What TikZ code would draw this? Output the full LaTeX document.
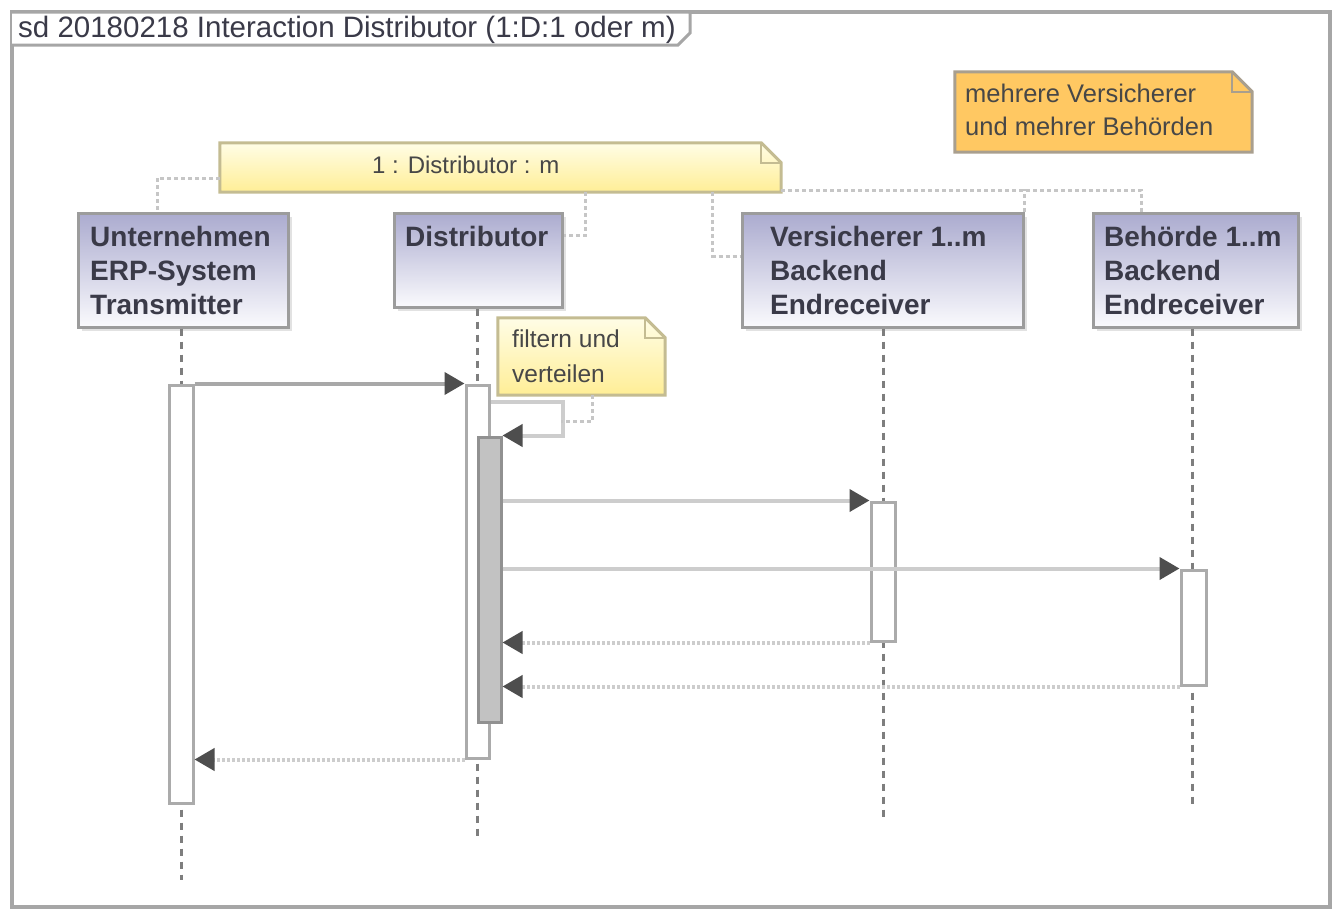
\documentclass[tikz,border=0pt]{standalone}
\usepackage{fontspec}
\setmainfont{Liberation Sans}
\usetikzlibrary{arrows.meta,calc,shadows}
\definecolor{framec}{HTML}{A6A6A6}
\definecolor{boxc}{HTML}{9C9C9C}
\definecolor{lavtop}{HTML}{ABABCF}
\definecolor{lavbot}{HTML}{FAFAFD}
\definecolor{ytop}{HTML}{FFFDE6}
\definecolor{ybot}{HTML}{FFEE96}
\definecolor{yborder}{HTML}{C4BC92}
\definecolor{orangec}{HTML}{FFC862}
\definecolor{oborder}{HTML}{A99F8E}
\definecolor{arrowc}{HTML}{4E4E4E}
\definecolor{msgc}{HTML}{A8A8A8}
\definecolor{retc}{HTML}{CDCDCD}
\definecolor{connc}{HTML}{C6C6C6}
\definecolor{lifec}{HTML}{7E7E7E}
\definecolor{actc}{HTML}{ABABAB}
\definecolor{actfill}{HTML}{C2C2C2}
\definecolor{txtc}{HTML}{3A3A48}
\definecolor{shadc}{HTML}{E2E2E2}
\begin{document}
\begin{tikzpicture}[x=1pt,y=-1pt,
  lifebox/.style={draw=boxc,line width=3pt,top color=lavtop,bottom color=lavbot,inner sep=0pt,
    drop shadow={shadow xshift=4pt,shadow yshift=-4pt,fill=shadc,opacity=1}},
  boxtext/.style={anchor=north west,inner sep=0pt,align=left,font=\fontsize{28}{34}\selectfont\bfseries,text=txtc},
  notetext/.style={inner sep=0pt,align=left,font=\fontsize{25}{33}\selectfont,text=black!72},
  anote/.style={inner sep=0pt},
  actbar/.style={draw=actc,line width=3pt,fill=white,inner sep=0pt},
  actbarin/.style={draw=actc!85!black,line width=3pt,fill=actfill,inner sep=0pt},
  lifeline/.style={draw=lifec,line width=3pt,dash pattern=on 7pt off 6pt},
  msg/.style={draw=msgc,line width=4pt,-{Triangle[length=20pt,width=22pt,color=arrowc,fill=arrowc]}},
  ret/.style={draw=retc,line width=4pt,dash pattern=on 3pt off 2pt,-{Triangle[length=20pt,width=22pt,color=arrowc,fill=arrowc]}},
  conn/.style={draw=connc,line width=3pt,dash pattern=on 4pt off 3pt},
]
\useasboundingbox (0,0) rectangle (1339,913);
\fill[white] (0,0) rectangle (1339,913);
% frame
\draw[framec,line width=3.5pt] (12,12) rectangle (1330,907);
\draw[framec,line width=3pt,fill=white] (12,12) -- (690,12) -- (690,33) -- (678,45) -- (12,45);
\node[anchor=base west,inner sep=0pt,font=\fontsize{29.5}{32}\selectfont,text=txtc] (title) at (18,37) {sd 20180218 Interaction Distributor (1:D:1 oder m)};

% orange note
\node[anote,minimum width=297pt,minimum height=80pt] (on) at (1103.5,112) {};
\fill[orangec] (on.north west) -- ($(on.north east)+(-20,0)$) -- ($(on.north east)+(0,20)$) -- (on.south east) -- (on.south west) -- cycle;
\draw[oborder,line width=3pt] (on.north west) -- ($(on.north east)+(-20,0)$) -- ($(on.north east)+(0,20)$) -- (on.south east) -- (on.south west) -- cycle;
\draw[oborder,line width=2pt] ($(on.north east)+(-20,0)$) -- ++(0,20) -- ++(20,0);
\node[notetext,anchor=base west,font=\fontsize{25.5}{33}\selectfont] (ont) at (965,135) {mehrere Versicherer\\und mehrer Behörden};

% distributor note
\node[anote,minimum width=561pt,minimum height=49pt] (dn) at (500.5,167.5) {};
\shade[top color=ytop,bottom color=ybot] (dn.north west) -- ($(dn.north east)+(-20,0)$) -- ($(dn.north east)+(0,20)$) -- (dn.south east) -- (dn.south west) -- cycle;
\draw[yborder,line width=3pt] (dn.north west) -- ($(dn.north east)+(-20,0)$) -- ($(dn.north east)+(0,20)$) -- (dn.south east) -- (dn.south west) -- cycle;
\draw[yborder,line width=2pt] ($(dn.north east)+(-20,0)$) -- ++(0,20) -- ++(20,0);
\node[notetext,anchor=base west,font=\fontsize{24}{30}\selectfont] (dnt) at (372,173) {1 : Distributor : m};

% lifeline boxes
\node[lifebox,minimum width=210pt,minimum height=114pt] (u) at (183,270) {};
\node[lifebox,minimum width=168pt,minimum height=94pt] (d) at (478,260) {};
\node[lifebox,minimum width=281pt,minimum height=114pt] (v) at (882.5,270) {};
\node[lifebox,minimum width=205pt,minimum height=114pt] (b) at (1195.5,270) {};
\node[boxtext] (ut) at (90,226) {Unternehmen\\ERP-System\\Transmitter};
\node[boxtext] (dt) at (405,226) {Distributor};
\node[boxtext] (vt) at (770,226) {Versicherer 1..m\\Backend\\Endreceiver};
\node[boxtext] (bt) at (1104,226) {Behörde 1..m\\Backend\\Endreceiver};

% note connectors
\draw[conn] ($(dn.west)+(0,10.5)$) -| ($(u.north)+(-26,0)$);
\draw[conn] ($(dn.south west)+(366,0)$) |- ($(d.north east)+(0,24)$);
\draw[conn] ($(dn.south west)+(493,0)$) |- ($(v.north west)+(0,45)$);
\draw[conn] ($(dn.south east)+(0,-2)$) -| ($(b.north west)+(50,0)$);
\draw[conn] (v.north east) -- ++(0,-23);

% lifelines
\coordinate (uE) at (181,880);
\coordinate (dE) at (477,840);
\coordinate (vE) at (883,820);
\coordinate (bE) at (1192,805);
\draw[lifeline] (u.south -| uE) -- (uE);
\draw[lifeline] (d.south -| dE) -- (dE);
\draw[lifeline] (v.south -| vE) -- (vE);
\draw[lifeline] (b.south -| bE) -- (bE);

% activation bars
\node[actbar,minimum width=24pt,minimum height=418pt] (ua) at (181,594) {};
\node[actbar,minimum width=23pt,minimum height=373pt] (da) at (477.5,571.5) {};
\node[actbarin,minimum width=23pt,minimum height=285pt] (di) at (489.5,579.5) {};
\node[actbar,minimum width=24pt,minimum height=139pt] (va) at (883,571.5) {};
\node[actbar,minimum width=25pt,minimum height=115pt] (ba) at (1193.5,627.5) {};

% filtern note
\node[anote,minimum width=167pt,minimum height=77pt] (fn) at (581.5,356.5) {};
\shade[top color=ytop,bottom color=ybot] (fn.north west) -- ($(fn.north east)+(-20,0)$) -- ($(fn.north east)+(0,20)$) -- (fn.south east) -- (fn.south west) -- cycle;
\draw[yborder,line width=3pt] (fn.north west) -- ($(fn.north east)+(-20,0)$) -- ($(fn.north east)+(0,20)$) -- (fn.south east) -- (fn.south west) -- cycle;
\draw[yborder,line width=2pt] ($(fn.north east)+(-20,0)$) -- ++(0,20) -- ++(20,0);
\node[notetext,anchor=base west,font=\fontsize{24.5}{35}\selectfont] (fnt) at (512,382) {filtern und\\verteilen};

% messages
\draw[msg] (ua.north east) -- (da.north west);
\draw[msg,draw=retc] ($(da.north east)+(0,18)$) -- ++(72,0) |- (di.north east);
\coordinate (sm) at (561,421);
\draw[conn] ($(fn.south west)+(95,0)$) |- (sm);
\draw[msg,draw=retc] (di.east |- va.north) -- (va.north west);
\draw[msg,draw=retc] (di.east |- ba.north) -- (ba.north west);
\draw[ret] (va.south west) -- (di.east |- va.south);
\draw[ret] (ba.south west) -- (di.east |- ba.south);
\draw[ret] (da.south west) -- (ua.east |- da.south);
\end{tikzpicture}
\end{document}
